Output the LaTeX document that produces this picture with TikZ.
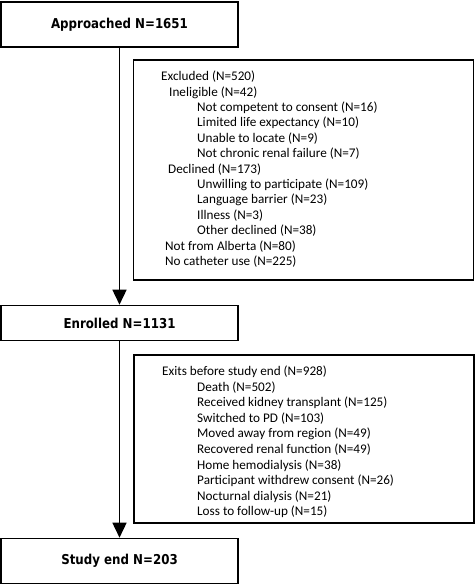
\documentclass[tikz,border=0pt]{standalone}
\usepackage{fontspec}
\setmainfont{Carlito}
\newfontfamily\headfont[FakeStretch=0.87]{DejaVu Sans}
\usetikzlibrary{arrows.meta}
\begin{document}
\begin{tikzpicture}[x=1pt,y=-1pt,
  mainbox/.style={draw=black,line width=1.6pt,minimum width=237pt,inner sep=0pt,font=\headfont\bfseries\fontsize{13.6pt}{15pt}\selectfont},
  listbox/.style={draw=black,line width=1.6pt,inner sep=0pt},
  item/.style={anchor=west,inner sep=0pt,font=\fontsize{13.2pt}{15pt}\selectfont},
  flow/.style={line width=1.6pt,-{Triangle[length=15pt,width=14pt]}}]
\useasboundingbox (0,0) rectangle (475,585);
% main boxes
\node[mainbox,minimum height=45pt] (appr) at (119.5,24.5) {Approached N=1651};
\node[mainbox,minimum height=35pt] (enr) at (119.5,323) {Enrolled N=1131};
\node[mainbox,minimum height=45pt] (end) at (119.5,561) {Study end N=203};
% list boxes
\node[listbox,minimum width=340pt,minimum height=220pt] (excl) at (303.5,170) {};
\node[listbox,minimum width=340pt,minimum height=168pt] (exits) at (304,439) {};
% connectors
\draw[flow] (appr.south) -- (enr.north);
\draw[flow] (enr.south) -- (end.north);
% excluded list
\node[item] (e1) at (161,77) {Excluded (N=520)};
\node[item] (e2) at (169,92.4) {Ineligible (N=42)};
\node[item] (e3) at (197,107.8) {Not competent to consent (N=16)};
\node[item] (e4) at (197,123.2) {Limited life expectancy (N=10)};
\node[item] (e5) at (197,138.6) {Unable to locate (N=9)};
\node[item] (e6) at (197,154) {Not chronic renal failure (N=7)};
\node[item] (e7) at (168,169.4) {Declined (N=173)};
\node[item] (e8) at (197,184.8) {Unwilling to participate (N=109)};
\node[item] (e9) at (197,200.2) {Language barrier (N=23)};
\node[item] (e10) at (197,215.6) {Illness (N=3)};
\node[item] (e11) at (197,231) {Other declined (N=38)};
\node[item] (e12) at (165,246.4) {Not from Alberta (N=80)};
\node[item] (e13) at (165,261.8) {No catheter use (N=225)};
% exits list
\node[item] (x1) at (162,372) {Exits before study end (N=928)};
\node[item] (x2) at (197,387.55) {Death (N=502)};
\node[item] (x3) at (197,403.1) {Received kidney transplant (N=125)};
\node[item] (x4) at (197,418.65) {Switched to PD (N=103)};
\node[item] (x5) at (197,434.2) {Moved away from region (N=49)};
\node[item] (x6) at (197,449.75) {Recovered renal function (N=49)};
\node[item] (x7) at (197,465.3) {Home hemodialysis (N=38)};
\node[item] (x8) at (197,480.85) {Participant withdrew consent (N=26)};
\node[item] (x9) at (197,496.4) {Nocturnal dialysis (N=21)};
\node[item] (x10) at (197,511.95) {Loss to follow-up (N=15)};
\end{tikzpicture}
\end{document}
